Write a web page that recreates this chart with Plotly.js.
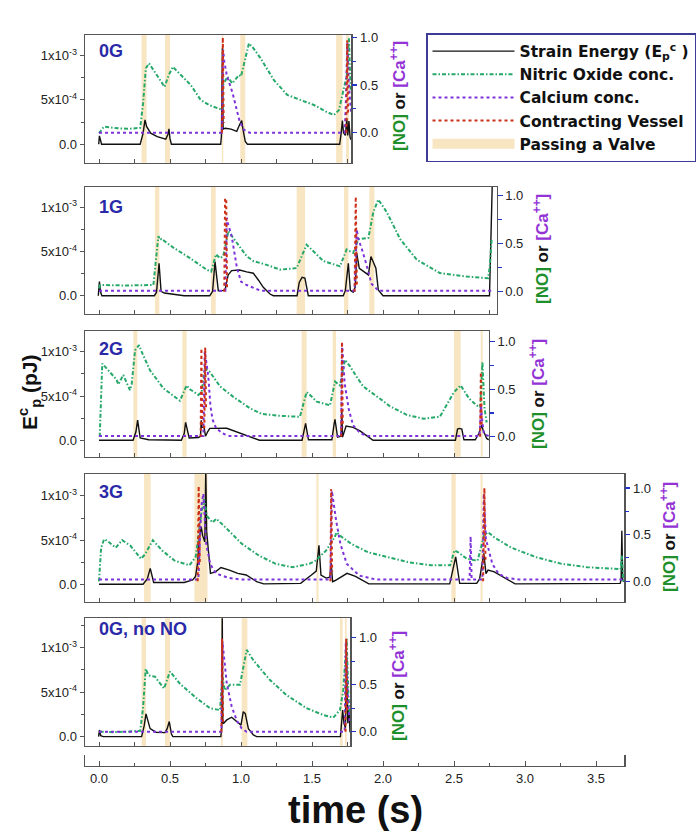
<!DOCTYPE html>
<html><head><meta charset="utf-8">
<script src="https://cdn.plot.ly/plotly-3.0.1.min.js"></script>
<style>html,body{margin:0;padding:0;background:#fff}#chart{width:700px;height:836px}</style>
</head><body><div id="chart"></div>
<script>
// ---------------- DATA ----------------
const panelNames = ['0G', '1G', '2G', '3G', '0G, no NO'];
const timeTickLabels = ['0.0','0.5','1.0','1.5','2.0','2.5','3.0','3.5'];

// Strain energy, in units of 1e-4 pJ
const t_E_0G = [-0.002,0.003,0.018,0.29,0.31,0.324,0.335,0.364,0.41,0.47,0.485,0.493,0.50,0.51,0.857,0.862,0.869,0.874,0.88,0.89,0.93,0.97,0.99,1.005,1.015,1.03,1.045,1.695,1.705,1.714,1.722,1.735,1.745,1.752,1.76,1.768,1.775];
const E_0G   = [0,0.94,0,0,1.2,2.74,2.0,1.24,0.86,0.56,1.1,1.73,0.6,0,0,0.9,10.8,1.7,1.75,1.8,1.7,1.45,2.2,2.67,1.6,0.3,0,0,1.2,2.67,1.3,1.0,2.9,1.0,2.6,0.8,0.5];
const t_NO_0G = [0.0,0.035,0.1,0.2,0.29,0.31,0.33,0.352,0.40,0.462,0.49,0.52,0.58,0.646,0.716,0.775,0.869,0.873,0.904,0.939,0.986,1.0,1.056,1.09,1.138,1.232,1.326,1.42,1.514,1.60,1.655,1.69,1.725,1.745,1.76,1.772];
const NO_0G   = [-0.007,0.063,0.05,0.04,0.05,0.3,0.675,0.727,0.62,0.48,0.6,0.69,0.6,0.5,0.343,0.29,0.238,0.5,0.587,0.517,0.605,0.59,0.937,0.88,0.78,0.55,0.395,0.343,0.29,0.22,0.185,0.238,0.48,0.6,0.99,0.45];
const t_Ca_0G = [0.0,0.866,0.874,0.882,0.90,0.94,0.97,0.99,1.02,1.06,1.73,1.738,1.748,1.76,1.775];
const Ca_0G   = [0,0,0.87,0.75,0.6,0.42,0.24,0.12,0.03,0,0,0.3,0.94,0.5,0.2];
const t_CV_0G = [0.866,0.872,0.878,null,1.742,1.748,1.754];
const CV_0G   = [0,1.0,0.1,null,0,0.97,0.2];
const valves_0G = [[0.30,0.335],[0.465,0.50],[0.865,0.875],[0.995,1.03],[1.67,1.715],[1.74,1.76]];

const t_E_1G = [-0.005,0.003,0.01,0.02,0.39,0.405,0.423,0.437,0.46,0.55,0.6,0.78,0.80,0.817,0.835,0.84,0.887,0.90,0.91,0.934,0.99,1.04,1.087,1.122,1.157,1.204,1.228,1.395,1.41,1.43,1.45,1.474,1.72,1.735,1.756,1.77,1.79,1.805,1.815,1.833,1.897,1.915,1.93,1.95,1.967,1.99,2.0,2.75,2.758,2.77];
const E_1G   = [0,1.6,0.5,0,0,0.4,3.67,0.5,0.3,0.1,0,0,0.5,3.86,0.6,0.57,0.6,1.78,2.35,2.84,2.9,2.7,2.54,1.78,0.95,0.19,0,0,1.5,2.08,2.0,0,0,0.6,3.67,0.6,0.4,1.0,4.8,3.1,2.35,4.43,3.86,3.1,0.64,0.15,0,0,6.0,13.0];
const t_NO_1G = [0.0,0.008,0.02,0.2,0.383,0.418,0.43,0.44,0.523,0.641,0.758,0.79,0.824,0.852,0.875,0.911,0.97,1.04,1.087,1.18,1.275,1.392,1.462,1.497,1.58,1.697,1.744,1.79,1.826,1.897,1.932,1.967,2.026,2.12,2.237,2.40,2.59,2.74,2.752,2.765];
const NO_1G   = [0.035,0.07,0.07,0.065,0.07,0.58,0.54,0.55,0.46,0.35,0.23,0.21,0.39,0.35,0.37,0.63,0.51,0.37,0.32,0.28,0.23,0.246,0.49,0.44,0.32,0.264,0.44,0.405,0.546,0.56,0.83,0.96,0.83,0.55,0.335,0.194,0.158,0.14,0.26,0.55];
const t_Ca_1G = [0.0,0.89,0.90,0.91,0.934,0.97,1.0,1.04,1.09,1.14,1.80,1.815,1.826,1.85,1.88,1.92,1.97,2.77];
const Ca_1G   = [0.01,0.01,0.77,0.7,0.58,0.26,0.105,0.07,0.04,0.01,0.01,0.65,0.55,0.45,0.3,0.08,0.01,0.01];
const t_CV_1G = [0.882,0.888,0.896,0.902,null,1.80,1.808,1.816];
const CV_1G   = [0,0.97,0.97,0.02,null,0,0.99,0.05];
const valves_1G = [[0.394,0.425],[0.789,0.822],[1.392,1.451],[1.725,1.756],[1.904,1.939]];

const t_E_2G = [0.0,0.24,0.26,0.272,0.29,0.35,0.58,0.60,0.61,0.635,0.70,0.715,0.72,0.725,0.74,0.75,0.765,0.78,0.9,0.993,1.087,1.13,1.43,1.445,1.455,1.475,1.64,1.655,1.662,1.68,1.705,1.71,1.715,1.74,1.79,1.838,1.897,1.93,2.51,2.525,2.538,2.555,2.57,2.65,2.675,2.695,2.705,2.73,2.745];
const E_2G   = [0.05,0.05,1.0,2.3,0.3,0.1,0.05,0.8,2.05,0.3,0.35,0.5,2.3,1.5,1.5,0.5,1.0,1.38,1.4,0.82,0.26,0.05,0.05,1.2,1.94,0.1,0.1,1.8,2.4,0.4,0.5,3.4,0.4,1.64,1.5,1.1,0.45,0.05,0.05,1.3,1.38,1.3,0.1,0.1,0.8,1.75,1.2,0.25,0.1];
const t_NO_2G = [0.005,0.023,0.035,0.077,0.124,0.136,0.171,0.218,0.23,0.254,0.282,0.30,0.359,0.453,0.57,0.617,0.64,0.70,0.723,0.746,0.782,0.852,0.946,1.063,1.146,1.275,1.415,1.462,1.486,1.533,1.627,1.662,1.697,1.732,1.768,1.815,1.86,1.979,2.05,2.167,2.284,2.40,2.50,2.547,2.607,2.66,2.685,2.70,2.715,2.73];
const NO_2G   = [0.0,0.77,0.75,0.68,0.6,0.55,0.65,0.49,0.55,0.91,0.965,0.895,0.7,0.51,0.38,0.54,0.5,0.44,0.47,0.72,0.68,0.53,0.42,0.3,0.24,0.22,0.21,0.47,0.44,0.37,0.33,0.58,0.54,0.81,0.74,0.63,0.53,0.4,0.32,0.23,0.19,0.21,0.47,0.54,0.4,0.33,0.31,0.79,0.3,0.15];
const t_Ca_2G = [0.0,0.735,0.745,0.755,0.77,0.785,0.80,0.825,0.87,0.92,1.705,1.712,1.73,1.76,1.79,1.84,1.9,2.68,2.69,2.70,2.71,2.745];
const Ca_2G   = [0.007,0.007,0.9,0.8,0.63,0.32,0.18,0.09,0.035,0.007,0.007,0.98,0.56,0.28,0.12,0.035,0.007,0.007,0.33,0.15,0.03,0.007];
const t_CV_2G = [0.716,0.721,0.727,0.742,0.748,0.754,null,1.706,1.711,1.717,null,2.684,2.689,2.695];
const CV_2G   = [0,0.93,0.1,0.1,0.94,0.3,null,0,1.0,0.1,null,0,0.68,0.1];
const valves_2G = [[0.242,0.27],[0.587,0.617],[1.427,1.462],[1.646,1.669],[2.50,2.547],[2.688,2.702]];

const t_E_3G = [0.0,0.31,0.34,0.361,0.385,0.6,0.66,0.68,0.695,0.705,0.72,0.73,0.745,0.752,0.758,0.765,0.775,0.785,0.82,0.859,0.918,0.977,1.037,1.11,1.16,1.42,1.496,1.53,1.549,1.563,1.60,1.625,1.635,1.645,1.66,1.70,1.747,1.806,1.866,1.90,2.47,2.49,2.512,2.54,2.66,2.68,2.70,2.71,2.725,2.74,2.784,2.84,2.90,2.93,3.67,3.677,3.682,3.688,3.695];
const E_3G   = [0,0,0.6,1.8,0.2,0.2,0.5,0.9,2.5,5.0,6.5,5.5,4.8,13.0,6.0,4.8,3.2,1.24,1.4,1.9,1.6,1.24,1.05,0.3,0.05,0.1,1.05,1.5,4.4,1.05,0.7,0.8,2.4,0.3,0.4,0.8,1.24,0.9,0.3,0.05,0.05,1.5,3.1,0.1,0.1,0.6,2.5,3.5,1.2,1.6,1.4,0.85,0.3,0.05,0.1,0.5,6.05,0.5,0.3];
const t_NO_3G = [0.0,0.015,0.036,0.06,0.118,0.163,0.222,0.296,0.325,0.379,0.444,0.533,0.637,0.681,0.705,0.72,0.74,0.76,0.8,0.826,0.889,1.007,1.126,1.244,1.363,1.481,1.525,1.6,1.659,1.674,1.705,1.777,1.896,2.044,2.19,2.34,2.473,2.503,2.53,2.59,2.666,2.69,2.71,2.74,2.784,2.903,3.08,3.258,3.436,3.673,3.682,3.692];
const NO_3G   = [0.0,0.36,0.45,0.43,0.36,0.44,0.38,0.24,0.29,0.44,0.33,0.22,0.17,0.26,0.54,0.72,0.88,0.7,0.63,0.67,0.58,0.4,0.275,0.186,0.15,0.186,0.22,0.33,0.47,0.525,0.48,0.4,0.31,0.257,0.2,0.17,0.17,0.33,0.31,0.24,0.22,0.36,0.49,0.525,0.47,0.36,0.257,0.186,0.15,0.13,0.275,0.0];
const t_Ca_3G = [0.0,0.70,0.72,0.735,0.755,0.784,0.826,0.915,1.0,1.63,1.64,1.67,1.70,1.745,1.834,1.95,2.61,2.617,2.624,2.70,2.71,2.725,2.77,2.814,2.873,2.96,3.69];
const Ca_3G   = [0.018,0.018,0.8,0.94,0.4,0.18,0.08,0.035,0.018,0.018,0.97,0.65,0.4,0.186,0.06,0.018,0.018,0.48,0.018,0.018,0.94,0.45,0.186,0.08,0.035,0.018,0.018];
const t_CV_3G = [0.695,0.702,0.71,null,1.63,1.635,1.642,null,2.705,2.714,2.722];
const CV_3G   = [0,1.02,0.2,null,0,0.99,0.1,null,0,1.0,0.2];
const valves_3G = [[0.317,0.364],[0.672,0.764],[1.531,1.546],[2.482,2.512],[2.687,2.701]];

const t_E_noNO = [-0.003,0.003,0.012,0.03,0.30,0.318,0.331,0.36,0.40,0.465,0.48,0.495,0.51,0.52,0.858,0.864,0.868,0.872,0.878,0.90,0.934,0.97,1.0,1.016,1.03,1.052,1.087,1.11,1.70,1.716,1.725,1.735,1.744,1.752,1.76,1.768];
const E_noNO   = [0,0.75,0.1,0,0,1.2,2.56,0.9,0.5,0.45,0.9,1.7,0.3,0,0,1.0,14.0,1.5,1.5,1.88,2.18,1.7,1.3,2.8,2.6,0.9,0.2,0,0,3.0,1.5,1.0,9.0,1.5,3.0,0.5];
const t_NO_noNO = [0.005,0.1,0.2,0.29,0.31,0.329,0.348,0.394,0.458,0.50,0.57,0.688,0.782,0.852,0.869,0.885,0.923,0.993,1.04,1.087,1.204,1.32,1.462,1.58,1.65,1.697,1.72,1.744,1.756,1.765];
const NO_noNO   = [0.0,-0.005,0.0,0.01,0.25,0.67,0.6,0.585,0.46,0.64,0.51,0.355,0.25,0.23,0.585,0.44,0.5,0.5,0.87,0.76,0.55,0.39,0.25,0.177,0.15,0.23,0.44,0.99,0.4,0.2];
const t_Ca_noNO = [0.0,0.862,0.869,0.9,0.934,0.97,1.005,1.04,1.73,1.738,1.755,1.765];
const Ca_noNO   = [0,0,0.96,0.51,0.27,0.12,0.035,0,0,0.94,0.3,0.1];
const t_CV_noNO = [0.862,0.867,0.874,null,1.736,1.741,1.748];
const CV_noNO   = [0,0.99,0.1,null,0,0.99,0.2];
const valves_noNO = [[0.30,0.331],[0.465,0.50],[0.859,0.871],[1.005,1.045],[1.697,1.716],[1.732,1.744]];

// ---------------- LAYOUT / STYLE ----------------
const W = 700, H = 836;
const X0PX = 99, PXPS = 142;          // pixel of t=0 and pixels per second
const FONT = 'Liberation Sans, Arial, Helvetica, sans-serif';
const C = {E:'#111111', NO:'#26a86a', Ca:'#7d33d9', CV:'#cc2e18', valve:'#f8e5c2', frame:'#555555', blue:'#2233cc'};

const series = [
  {tE:t_E_0G, E:E_0G, tN:t_NO_0G, N:NO_0G, tC:t_Ca_0G, Ca:Ca_0G, tV:t_CV_0G, V:CV_0G, valves:valves_0G},
  {tE:t_E_1G, E:E_1G, tN:t_NO_1G, N:NO_1G, tC:t_Ca_1G, Ca:Ca_1G, tV:t_CV_1G, V:CV_1G, valves:valves_1G},
  {tE:t_E_2G, E:E_2G, tN:t_NO_2G, N:NO_2G, tC:t_Ca_2G, Ca:Ca_2G, tV:t_CV_2G, V:CV_2G, valves:valves_2G},
  {tE:t_E_3G, E:E_3G, tN:t_NO_3G, N:NO_3G, tC:t_Ca_3G, Ca:Ca_3G, tV:t_CV_3G, V:CV_3G, valves:valves_3G},
  {tE:t_E_noNO, E:E_noNO, tN:t_NO_noNO, N:NO_noNO, tC:t_Ca_noNO, Ca:Ca_noNO, tV:t_CV_noNO, V:CV_noNO, valves:valves_noNO}
];
const geom = [
  {tmax:1.778, top:35,    bot:162.7, yL:[-2.08e-4,1.23e-3],  yR:[-0.315,1.024], titleX:398, titleY:96,  labelY:51},
  {tmax:2.80,  top:186.7, bot:314,   yL:[-2.07e-4,1.233e-3], yR:[-0.232,1.094], titleX:541, titleY:249, labelY:207},
  {tmax:2.746, top:330.7, bot:456.7, yL:[-1.8e-4,1.236e-3],  yR:[-0.21,1.116],  titleX:537, titleY:394, labelY:349},
  {tmax:3.70,  top:474,   bot:601.7, yL:[-1.97e-4,1.248e-3], yR:[-0.22,1.15],   titleX:668, titleY:537, labelY:492},
  {tmax:1.77,  top:618.3, bot:746,   yL:[-1.05e-4,1.33e-3],  yR:[-0.152,1.206], titleX:397, titleY:686, labelY:629}
];
const px = t => (X0PX + PXPS * t) / W;
const py = y => 1 - y / H;
const id = k => (k === 0 ? '' : String(k + 1));

const traces = [], shapes = [], annotations = [];
const layout = {
  width: W, height: H, margin: {l:0, r:0, t:0, b:0},
  paper_bgcolor:'#fff', plot_bgcolor:'#fff',
  font: {family: FONT, size: 13, color: '#222'},
  showlegend: true,
  legend: {x: 426/W, y: py(33), xanchor:'left', yanchor:'top', bgcolor:'#fff',
           bordercolor:'#3c3c96', borderwidth:1.5, itemwidth:82, traceorder:'normal',
           font:{family: 'DejaVu Sans, ' + FONT, size:15.5, color:'#111', weight:'bold'}}
};

series.forEach((s, k) => {
  const g = geom[k];
  const xa = 'x' + id(k), yl = 'y' + id(k), yr = 'y' + (k + 6);
  layout['xaxis' + id(k)] = {
    domain:[px(-0.1), px(g.tmax)], range:[-0.1, g.tmax], anchor: yl,
    ticks:'inside', tick0:0, dtick:0.25, ticklen:4, tickcolor:C.frame,
    showticklabels:false, showline:true, mirror:true, linecolor:C.frame, linewidth:1.2,
    showgrid:false, zeroline:false, fixedrange:true
  };
  layout['yaxis' + id(k)] = {
    domain:[py(g.bot), py(g.top)], range:g.yL, anchor: xa,
    tickmode:'array', tickvals:[0, 5e-4, 1e-3],
    ticktext:['0.0', '5x10<sup>-4</sup>', '1x10<sup>-3</sup>'],
    ticks:'outside', ticklen:4, tickcolor:C.frame,
    minor:{tickmode:'linear', tick0:0, dtick:2.5e-4, ticks:'outside', ticklen:2.5, tickcolor:C.frame},
    showline:true, mirror:true, linecolor:C.frame, linewidth:1.2,
    showgrid:false, zeroline:false, fixedrange:true, tickfont:{size:13, color:'#222'}
  };
  layout['yaxis' + (k + 6)] = {
    domain:[py(g.bot), py(g.top)], range:g.yR, anchor: xa, overlaying: yl, side:'right',
    tickmode:'array', tickvals:[0, 0.5, 1], ticktext:['0.0', '0.5', '1.0'],
    ticks:'outside', ticklen:5, tickcolor:C.blue, tickwidth:1.2,
    minor:{tickmode:'array', tickvals:[0.25, 0.75], ticks:'outside', ticklen:4, tickcolor:C.blue},
    showline:false, showgrid:false, zeroline:false, fixedrange:true, tickfont:{size:13, color:'#222'}
  };
  const first = k === 0;
  traces.push({x:s.tN, y:s.N, xaxis:xa, yaxis:yr, mode:'lines', name:'Nitric Oxide conc.', legendrank:2,
               showlegend:first, hoverinfo:'skip', line:{color:C.NO, width:2, dash:'4px,2px,1.5px,2px'}});
  traces.push({x:s.tC, y:s.Ca, xaxis:xa, yaxis:yr, mode:'lines', name:'Calcium conc.', legendrank:3,
               showlegend:first, hoverinfo:'skip', line:{color:C.Ca, width:2, dash:'dot'}});
  traces.push({x:s.tE, y:s.E.map(v => v * 1e-4), xaxis:xa, yaxis:yl, mode:'lines', name:'Strain Energy (E<sub>p</sub><sup>c</sup> )', legendrank:1,
               showlegend:first, hoverinfo:'skip', line:{color:C.E, width:1.4}});
  traces.push({x:s.tV, y:s.V, xaxis:xa, yaxis:yr, mode:'lines', name:'Contracting Vessel', legendrank:4,
               showlegend:first, hoverinfo:'skip', connectgaps:false, line:{color:C.CV, width:2, dash:'dot'}});
  s.valves.forEach(b => shapes.push({type:'rect', xref:xa, yref: yl + ' domain', x0:b[0], x1:b[1], y0:0, y1:1,
                                     fillcolor:C.valve, line:{width:0}, layer:'below'}));
  annotations.push({xref:'paper', yref:'paper', x:97/W, y:py(g.labelY), xanchor:'left', yanchor:'middle',
                    text:'<b>' + panelNames[k] + '</b>', showarrow:false, font:{size:18, color:'#2a2aa8'}});
  annotations.push({xref:'paper', yref:'paper', x:g.titleX/W, y:py(g.titleY), xanchor:'center', yanchor:'middle',
                    textangle:-90, showarrow:false, font:{size:17, color:'#111'},
                    text:'<b><span style="color:#1e8f2a">[NO]</span> or <span style="color:#9333d6">[Ca<sup>++</sup>]</span></b>'});
});

// legend-only entry for valve bands
traces.push({x:[null], y:[null], xaxis:'x', yaxis:'y', mode:'lines', name:'Passing a Valve', legendrank:5,
             showlegend:true, hoverinfo:'skip', line:{color:C.valve, width:10}});

// shared time axis at the bottom
layout.xaxis6 = {domain:[px(-0.1), px(3.7)], range:[-0.1, 3.7], anchor:'y11',
  tickmode:'array', tickvals:timeTickLabels.map(Number), ticktext:timeTickLabels,
  ticks:'inside', ticklen:5, tickcolor:C.frame,
  minor:{tickmode:'linear', tick0:0.25, dtick:0.5, ticks:'inside', ticklen:3, tickcolor:C.frame},
  showline:true, linecolor:C.frame, linewidth:1.2, showgrid:false, zeroline:false, fixedrange:true,
  tickfont:{size:13, color:'#222'}};
layout.yaxis11 = {domain:[py(766), py(755)], range:[0, 1], anchor:'x6', showline:true, mirror:true,
  linecolor:C.frame, linewidth:1.2, ticks:'', showticklabels:false, showgrid:false, zeroline:false, fixedrange:true};
traces.push({x:[null], y:[null], xaxis:'x6', yaxis:'y11', mode:'lines', showlegend:false, hoverinfo:'skip'});

annotations.push({xref:'paper', yref:'paper', x:355/W, y:py(810), xanchor:'center', yanchor:'middle',
                  text:'<b>time (s)</b>', showarrow:false, font:{size:38, color:'#111'}});
annotations.push({xref:'paper', yref:'paper', x:29/W, y:py(392), xanchor:'center', yanchor:'middle', textangle:-90,
                  text:'<b>E<sup>c</sup><sub>p</sub> (pJ)</b>', showarrow:false, font:{size:21, color:'#111'}});

layout.shapes = shapes;
layout.annotations = annotations;
Plotly.newPlot('chart', traces, layout, {staticPlot:true, displayModeBar:false});
</script></body></html>
